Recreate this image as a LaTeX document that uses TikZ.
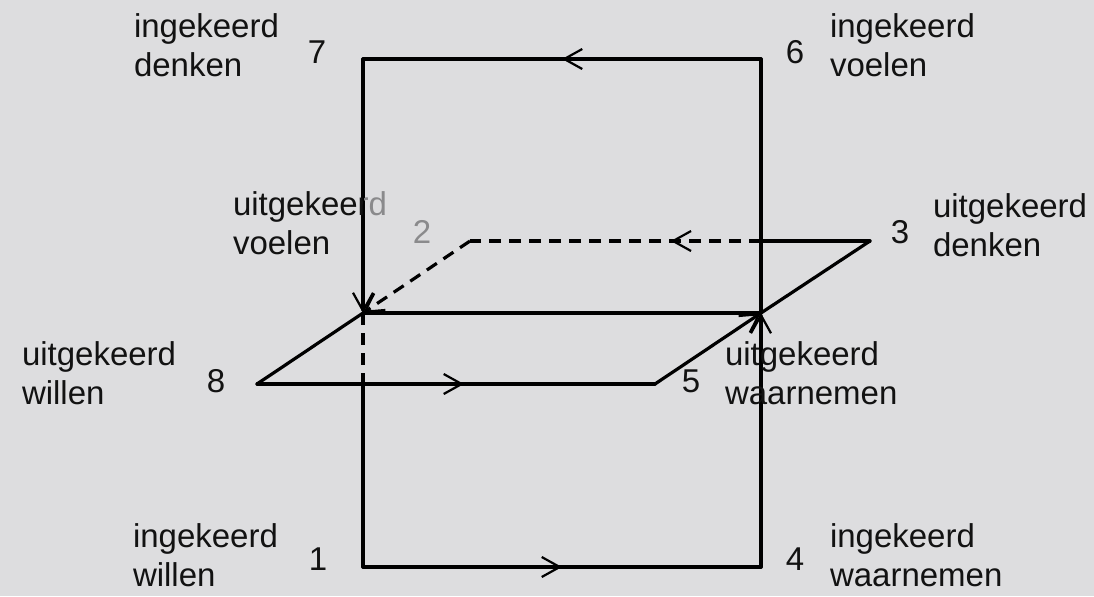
\documentclass[tikz,border=0pt]{standalone}
\usepackage{fontspec}
\setmainfont{Liberation Sans}
\usetikzlibrary{arrows.meta,decorations.markings}
\definecolor{bgcol}{RGB}{221,221,223}
\definecolor{txtcol}{RGB}{18,18,18}
\definecolor{greytxt}{RGB}{138,138,140}
\newcommand\twolines[2]{\begin{tabular}[t]{@{}l@{}}#1\\#2\end{tabular}}
\tikzset{
  lbl/.style={anchor=base west,inner sep=0pt,outer sep=0pt,text=txtcol,
    font=\fontsize{16.5pt}{19.5pt}\selectfont},
  num/.style={anchor=base,inner sep=0pt,outer sep=0pt,text=txtcol,
    font=\fontsize{16.5pt}{19.5pt}\selectfont},
  ln/.style={line width=1.6pt,draw=black,line cap=round,line join=round},
  tipp/.style={-{Straight Barb[length=9pt,width=10pt,line width=1.1pt]}},
  hidden/.style={dash pattern=on 6pt off 4pt,line cap=butt},
  midarrow/.style={postaction={decorate},decoration={markings,
    mark=at position #1 with {\arrow[line width=1.1pt]{Straight Barb[length=9pt,width=10pt]}}}}
}
\begin{document}
\begin{tikzpicture}[x=0.5pt,y=-0.5pt]
\fill[bgcol] (0,0) rectangle (1094,596);
\useasboundingbox (0,0) rectangle (1094,596);
% points
\coordinate (P1) at (363,567);
\coordinate (P4) at (761,567);
\coordinate (P6) at (761,59);
\coordinate (P7) at (363,59);
\coordinate (P8) at (257,384);
\coordinate (P5) at (655,384);
\coordinate (P3) at (870,241);
\coordinate (P2) at (470,241);
\coordinate (JL) at (363,313);
\coordinate (JR) at (761,313);
\coordinate (HC) at (761,241);
\coordinate (HD) at (363,384);
% connectors
\draw[ln,midarrow=0.5] (P1) -- (P4);
\draw[ln,tipp] (P4) -- (JR);
\draw[ln] (JR) -- (P6);
\draw[ln,midarrow=0.5] (P6) -- (P7);
\draw[ln,tipp] (P7) -- (JL);
\draw[ln,hidden] (JL) -- (HD);
\draw[ln] (HD) -- (P1);
\draw[ln,midarrow=0.52] (P8) -- (P5);
\draw[ln,tipp] (P5) -- (JR);
\draw[ln] (JR) -- (P3);
\draw[ln] (P3) -- (HC);
\draw[ln,hidden,midarrow=0.31] (HC) -- (P2);
\draw[ln,hidden,tipp] (P2) -- (JL);
\draw[ln] (P8) -- (JL);
\draw[ln] (JL) -- (JR);
% labels
\node[lbl] (l7) at (134,37) {\twolines{ingekeerd}{denken}};
\node[lbl] (l6) at (830,37) {\twolines{ingekeerd}{voelen}};
\begin{scope}
\clip (0,0) rectangle (362,596);
\node[lbl] (l2) at (233,215) {\twolines{uitgekeerd}{voelen}};
\end{scope}
\begin{scope}
\clip (364,0) rectangle (1094,596);
\node[lbl,text=greytxt] (l2b) at (233,215) {\twolines{uitgekeerd}{voelen}};
\end{scope}
\node[lbl] (l3) at (933,217) {\twolines{uitgekeerd}{denken}};
\node[lbl] (l8) at (22,365) {\twolines{uitgekeerd}{willen}};
\node[lbl] (l5) at (725,365) {\twolines{uitgekeerd}{waarnemen}};
\node[lbl] (l1) at (133,547) {\twolines{ingekeerd}{willen}};
\node[lbl] (l4) at (830,547) {\twolines{ingekeerd}{waarnemen}};
% numbers
\node[num] (n7) at (317,63) {7};
\node[num] (n6) at (795,63) {6};
\node[num,text=greytxt] (n2) at (422,243) {2};
\node[num] (n3) at (900,243) {3};
\node[num] (n8) at (216,392) {8};
\node[num] (n5) at (691,392) {5};
\node[num] (n1) at (318,570) {1};
\node[num] (n4) at (795,570) {4};
\end{tikzpicture}
\end{document}
